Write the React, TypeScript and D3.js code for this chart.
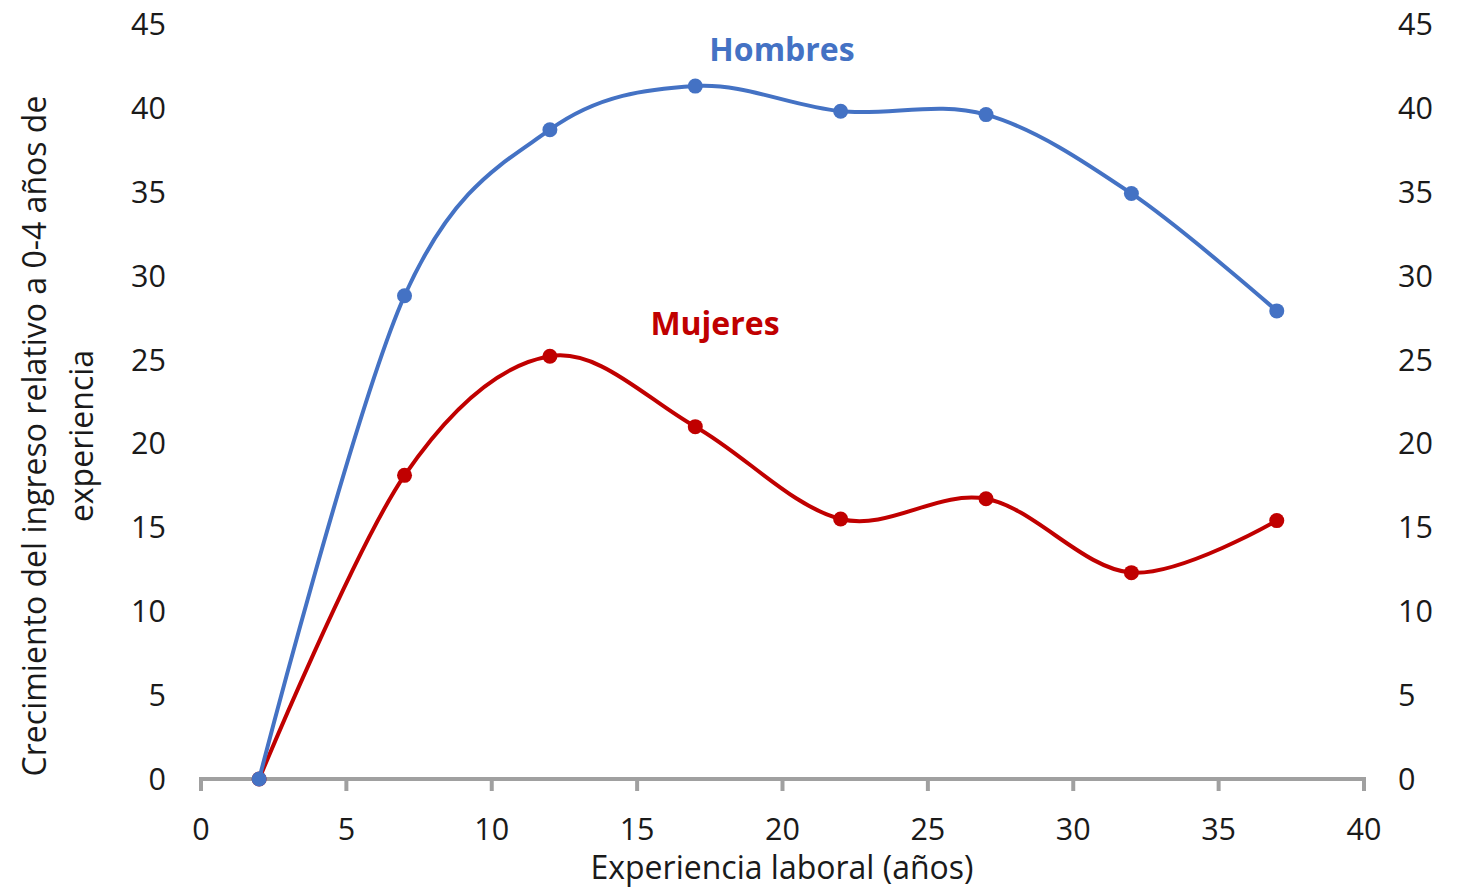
import React from "react";
import * as d3 from "d3";

const experience = [2, 7, 12, 17, 22, 27, 32, 37];
const hombres = [0, 28.8, 38.7, 41.3, 39.8, 39.6, 34.9, 27.9];
const mujeres = [0, 18.1, 25.2, 21.0, 15.5, 16.7, 12.3, 15.4];
const xTicks = [0, 5, 10, 15, 20, 25, 30, 35, 40];
const yTicks = [0, 5, 10, 15, 20, 25, 30, 35, 40, 45];

const W = 1463;
const H = 889;
const FONT = "'Open Sans', 'Segoe UI', sans-serif";

export default function App() {
  const x = d3.scaleLinear().domain([0, 40]).range([201, 1364]);
  const y = d3.scaleLinear().domain([0, 45]).range([779, 24]);
  const line = d3
    .line<number>()
    .x((_, i) => x(experience[i]))
    .y((d) => y(d))
    .curve(d3.curveCatmullRom.alpha(0));

  const series = [
    { name: "Mujeres", values: mujeres, color: "#C00000", lx: 715, ly: 335 },
    { name: "Hombres", values: hombres, color: "#4472C4", lx: 782, ly: 61 },
  ];

  return (
    <svg
      width={W}
      height={H}
      style={{ position: "absolute", left: 0, top: 0, background: "#fff" }}
      fontFamily={FONT}
    >
      {yTicks.map((t) => (
        <g key={"y" + t}>
          <text x={166} y={y(t)} dy="0.36em" textAnchor="end" fontSize={30.5} fill="#1a1a1a">
            {t}
          </text>
          <text x={1398} y={y(t)} dy="0.36em" textAnchor="start" fontSize={30.5} fill="#1a1a1a">
            {t}
          </text>
        </g>
      ))}
      <line x1={x(0)} x2={x(40)} y1={y(0)} y2={y(0)} stroke="#a0a0a0" strokeWidth={4} />
      {xTicks.map((t) => (
        <g key={"x" + t}>
          <line x1={x(t)} x2={x(t)} y1={y(0) - 2} y2={y(0) + 12} stroke="#a0a0a0" strokeWidth={4} />
          <text x={x(t)} y={840} textAnchor="middle" fontSize={30.5} fill="#1a1a1a">
            {t}
          </text>
        </g>
      ))}
      <text x={782} y={879} textAnchor="middle" fontSize={32} fill="#1a1a1a">
        Experiencia laboral (años)
      </text>
      <g transform="translate(46,436) rotate(-90)">
        <text x={0} y={0} textAnchor="middle" fontSize={32} fill="#1a1a1a">
          Crecimiento del ingreso relativo a 0-4 años de
        </text>
        <text x={0} y={47} textAnchor="middle" fontSize={32} fill="#1a1a1a">
          experiencia
        </text>
      </g>
      {series.map((s) => (
        <g key={s.name}>
          <path d={line(s.values) || ""} fill="none" stroke={s.color} strokeWidth={4} />
          {s.values.map((v, i) => (
            <circle key={i} cx={x(experience[i])} cy={y(v)} r={7.5} fill={s.color} />
          ))}
          <text x={s.lx} y={s.ly} textAnchor="middle" fontSize={32} fontWeight="bold" fill={s.color}>
            {s.name}
          </text>
        </g>
      ))}
    </svg>
  );
}
